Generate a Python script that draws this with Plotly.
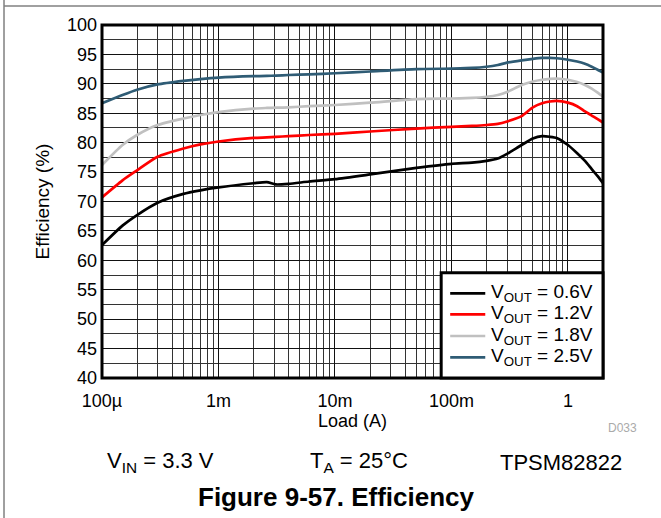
import plotly.graph_objects as go

# ---- data ----
load_a = [1e-4, 1.5e-4, 2e-4, 3e-4, 5e-4, 7e-4, 1e-3, 2e-3, 2.6e-3, 3.1e-3, 4e-3, 6e-3,
          1e-2, 2e-2, 5e-2, 0.1, 0.15, 0.2, 0.25, 0.3, 0.4, 0.5, 0.6, 0.7, 0.8,
          1.0, 1.2, 1.4, 1.6, 1.8, 2.0]

eff_06v = [62.6, 65.9, 67.7, 69.8, 71.3, 71.9, 72.4, 73.1, 73.3, 72.9, 73.0, 73.4,
           73.8, 74.6, 75.7, 76.4, 76.6, 76.9, 77.3, 78.1, 79.6, 80.7, 81.1, 81.0, 80.8,
           79.6, 78.2, 76.9, 75.5, 74.3, 73.1]
eff_12v = [70.7, 73.6, 75.3, 77.6, 79.0, 79.7, 80.2, 80.8, 80.9, 81.0, 81.1, 81.3,
           81.5, 81.9, 82.4, 82.7, 82.85, 83.0, 83.2, 83.6, 84.5, 86.0, 86.7, 87.0, 87.1,
           86.8, 86.2, 85.3, 84.6, 84.0, 83.4]
eff_18v = [76.2, 79.6, 81.3, 83.0, 84.1, 84.7, 85.2, 85.8, 85.9, 85.95, 86.0, 86.2,
           86.4, 86.8, 87.4, 87.5, 87.6, 87.8, 88.1, 88.6, 89.8, 90.4, 90.7, 90.85, 90.9,
           90.7, 90.3, 89.8, 89.2, 88.5, 87.8]
eff_25v = [86.7, 88.1, 89.0, 89.9, 90.5, 90.8, 91.05, 91.3, 91.35, 91.4, 91.5, 91.6,
           91.8, 92.1, 92.5, 92.6, 92.7, 92.9, 93.2, 93.6, 94.0, 94.25, 94.4, 94.4, 94.35,
           94.1, 93.8, 93.4, 92.9, 92.4, 91.9]

series_names = ["V<sub>OUT</sub> = 0.6V", "V<sub>OUT</sub> = 1.2V",
                "V<sub>OUT</sub> = 1.8V", "V<sub>OUT</sub> = 2.5V"]
series_colors = ["#000000", "#ff0000", "#c0c0c0", "#2f5c75"]

x_tick_vals = [1e-4, 1e-3, 1e-2, 1e-1, 1]
x_tick_text = ["100µ", "1m", "10m", "100m", "1"]
y_tick_vals = list(range(40, 101, 5))

FONT = "Liberation Sans, Arial, sans-serif"

fig = go.Figure()
for name, color, ys in zip(series_names, series_colors, [eff_06v, eff_12v, eff_18v, eff_25v]):
    fig.add_trace(go.Scatter(x=load_a, y=ys, mode="lines", name=name, showlegend=False,
                             line=dict(color=color, width=2.7, shape="spline", smoothing=0.6)))

minor_x = [m * 10 ** e for e in range(-4, 1) for m in range(2, 10)]
minor_x = [v for v in minor_x if v < 2]

fig.update_layout(
    width=661, height=518,
    margin=dict(l=102, r=58, t=25, b=140),
    paper_bgcolor="white", plot_bgcolor="white",
    font=dict(family=FONT, size=18, color="black"),
    showlegend=False,
    xaxis=dict(type="log", range=[-4, 0.30103],
               tickmode="array", tickvals=x_tick_vals, ticktext=x_tick_text,
               showgrid=True, gridcolor="#111", gridwidth=1,
               minor=dict(tickmode="array", tickvals=minor_x, showgrid=True,
                          gridcolor="#333", gridwidth=1),
               ticks="", showline=False, zeroline=False, ticklabelstandoff=10,
               tickfont=dict(size=18),
               title=dict(text="Load (A)", font=dict(size=18), standoff=2)),
    yaxis=dict(range=[40, 100], tickmode="array", tickvals=y_tick_vals,
               showgrid=True, gridcolor="#111", gridwidth=1,
               minor=dict(dtick=2.5, tick0=40, showgrid=True, gridcolor="#333", gridwidth=1),
               ticks="", showline=False, zeroline=False, ticklabelstandoff=4,
               tickfont=dict(size=18),
               title=dict(text="Efficiency (%)", font=dict(size=19), standoff=12)),
)

# plot border
fig.add_shape(type="rect", xref="paper", yref="paper", x0=0, x1=1, y0=0, y1=1,
              line=dict(color="black", width=3), layer="above")
# page frame lines
fig.add_shape(type="line", xref="paper", yref="paper", x0=-0.1956, x1=-0.1956,
              y0=-0.3966, y1=1.0708, line=dict(color="#808080", width=1.5))
fig.add_shape(type="line", xref="paper", yref="paper", x0=-0.1956, x1=1.1158,
              y0=1.0538, y1=1.0538, line=dict(color="#808080", width=1.5))

# legend box (drawn inside the plot, lower right)
leg_x0, leg_y1 = 0.677, 0.298
fig.add_shape(type="rect", xref="paper", yref="paper", x0=leg_x0, x1=1, y0=0, y1=leg_y1,
              fillcolor="white", line=dict(color="black", width=3), layer="above")
leg_rows = [0.240, 0.180, 0.119, 0.0586]
for name, color, yy in zip(series_names, series_colors, leg_rows):
    fig.add_shape(type="line", xref="paper", yref="paper", x0=0.695, x1=0.765, y0=yy, y1=yy,
                  line=dict(color=color, width=2.7), layer="above")
    fig.add_annotation(xref="paper", yref="paper", x=0.772, y=yy, text=name,
                       showarrow=False, xanchor="left", yanchor="middle",
                       font=dict(size=19))

ann = [
    dict(text="D033", x=1.038, y=-0.1416, font=dict(size=12, color="#aaaaaa")),
    dict(text="V<sub>IN</sub> = 3.3 V", x=0.116, y=-0.238, font=dict(size=22)),
    dict(text="T<sub>A</sub> = 25°C", x=0.513, y=-0.238, font=dict(size=22)),
    dict(text="TPSM82822", x=0.916, y=-0.238, font=dict(size=22)),
    dict(text="<b>Figure 9-57. Efficiency</b>", x=0.469, y=-0.337, font=dict(size=26)),
]
for a in ann:
    fig.add_annotation(xref="paper", yref="paper", showarrow=False,
                       xanchor="center", yanchor="middle", **a)

fig.write_html("out.html", config={"displayModeBar": False},
               post_script="document.body.style.margin='0px';")
